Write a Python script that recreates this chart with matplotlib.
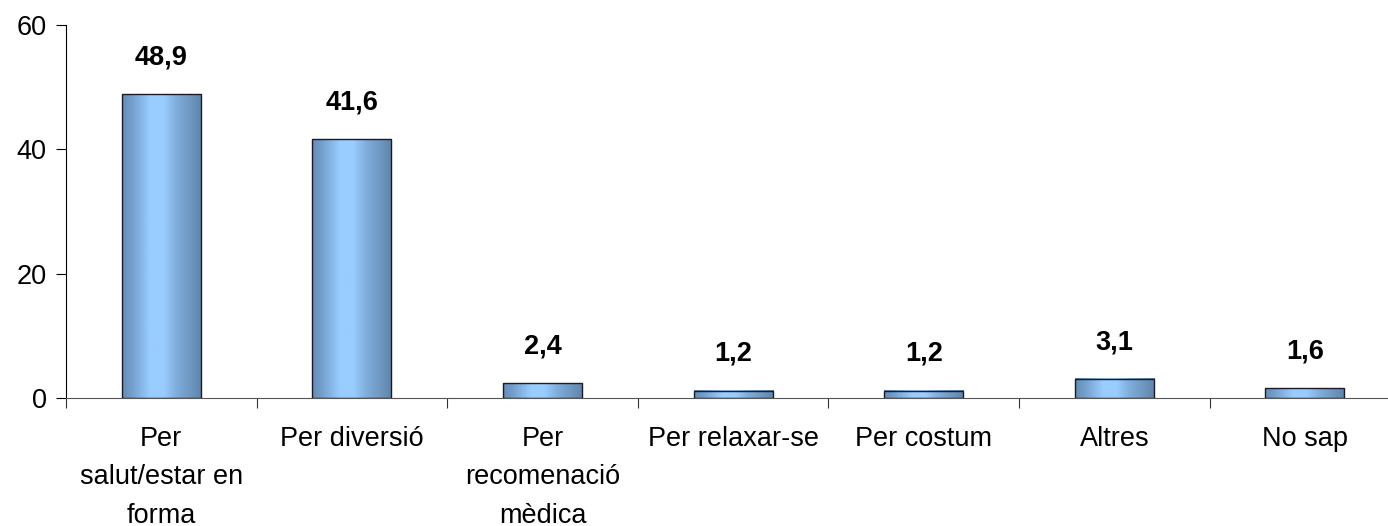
import matplotlib
matplotlib.use("Agg")
import matplotlib.pyplot as plt
import numpy as np
from matplotlib.colors import LinearSegmentedColormap

categories = ["Per\nsalut/estar en\nforma", "Per diversió", "Per\nrecomenació\nmèdica",
              "Per relaxar-se", "Per costum", "Altres", "No sap"]
values = [48.9, 41.6, 2.4, 1.2, 1.2, 3.1, 1.6]
value_labels = ["48,9", "41,6", "2,4", "1,2", "1,2", "3,1", "1,6"]
yticks = [0, 20, 40, 60]

plt.rcParams['font.family'] = ['Liberation Sans', 'DejaVu Sans']

W, H = 1388, 526
fig = plt.figure(figsize=(W/100, H/100), dpi=100)
left = 66 / W
bottom = (H - 398) / H
height = (398 - 25) / H
width = 7 * 190.6 / W
ax = fig.add_axes([left, bottom, width, height])

x = np.arange(len(values))
bw = 0.415
bars = ax.bar(x, values, width=bw, color='none', edgecolor='#1a1a2a', linewidth=1.0, zorder=3)

cmap = LinearSegmentedColormap.from_list('g', [
    (0.0, (0.40, 0.55, 0.70)),
    (0.12, (0.45, 0.62, 0.80)),
    (0.35, (0.60, 0.80, 1.00)),
    (0.52, (0.60, 0.80, 1.00)),
    (0.68, (0.50, 0.68, 0.86)),
    (1.0, (0.38, 0.52, 0.67)),
])
grad = np.linspace(0, 1, 256).reshape(1, -1)
for xi, v in zip(x, values):
    ax.imshow(grad, cmap=cmap, aspect='auto', extent=(xi - bw/2, xi + bw/2, 0, v), zorder=2)

for xi, v, lab in zip(x, values, value_labels):
    ax.annotate(lab, (xi, v), xytext=(0, 17), textcoords='offset points',
                ha='center', va='bottom', fontsize=19.5, fontweight='bold')

ax.set_xlim(-0.5, len(values) - 0.5)
ax.set_ylim(0, 60)
ax.set_yticks(yticks)
ax.set_yticklabels([str(t) for t in yticks], fontsize=19.5)
ax.set_xticks(np.arange(len(values) + 1) - 0.5, minor=False)
ax.set_xticklabels([])
ax.set_xticks(x, minor=True)
ax.set_xticklabels(categories, minor=True, fontsize=19.5, linespacing=1.62)
ax.tick_params(axis='x', which='minor', length=0, pad=20)
ax.tick_params(axis='x', which='major', length=7, direction='out', color='#333333')
ax.tick_params(axis='y', length=7, direction='out', pad=7)

for s in ['top', 'right']:
    ax.spines[s].set_visible(False)
ax.spines['bottom'].set_color('#555555')
ax.spines['left'].set_color('black')

fig.savefig('out.png', dpi=100)
